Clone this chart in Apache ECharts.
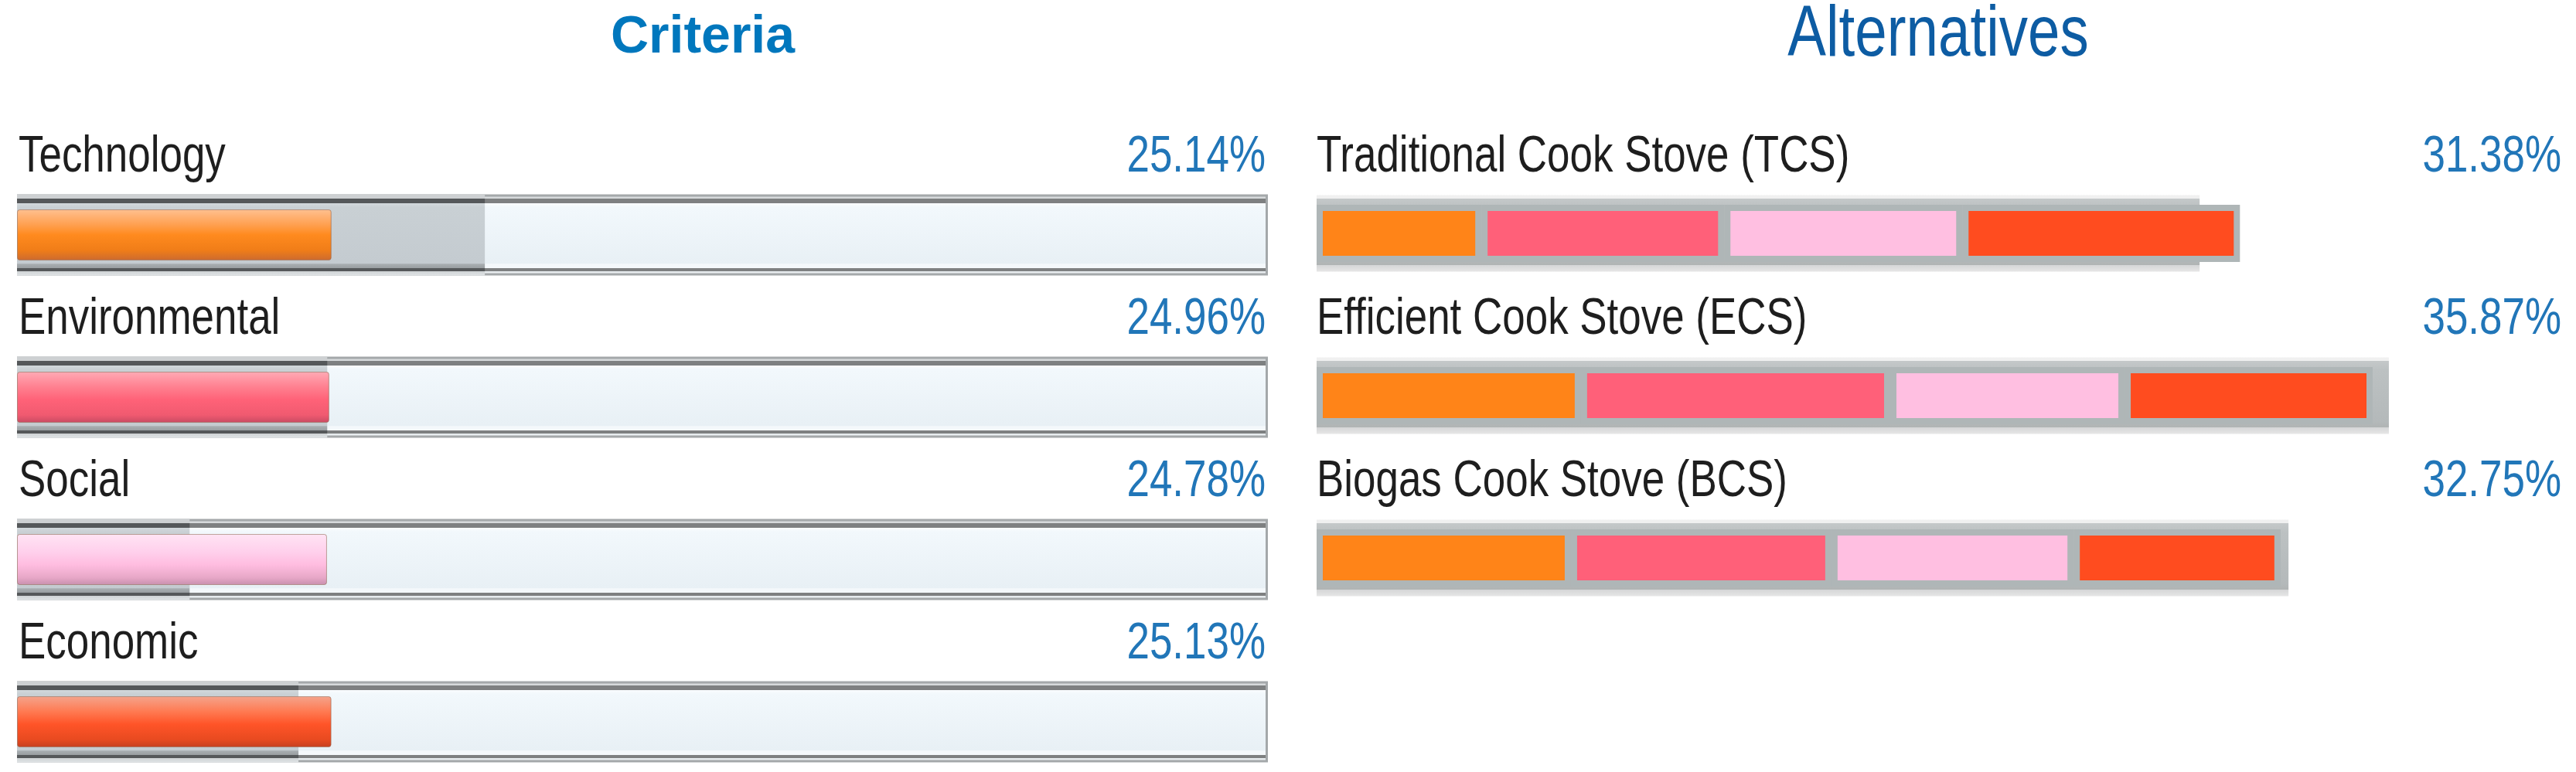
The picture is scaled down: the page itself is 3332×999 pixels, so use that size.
<!DOCTYPE html>
<html>
<head>
<meta charset="utf-8">
<script src="https://cdn.jsdelivr.net/npm/echarts@6/dist/echarts.min.js"></script>
<style>
html, body { margin: 0; background: #fff; }
#chart { width: 3332px; height: 999px; }
</style>
</head>
<body>
<div id="chart"></div>
<script>
// criteria weights (left panel)
const criteria = ['Technology', 'Environmental', 'Social', 'Economic'];
const criteriaWeights = [25.14, 24.96, 24.78, 25.13];
const criteriaGhost = [37.4, 24.8, 13.8, 22.5]; // grey trail behind each fill
const trackValues = [100, 100, 100, 100];

// alternatives (right panel)
const alternatives = ['Traditional Cook Stove (TCS)', 'Efficient Cook Stove (ECS)', 'Biogas Cook Stove (BCS)'];
const altScores = [31.38, 35.87, 32.75];
const altGhost = [30.0, 36.43, 33.02];
const techPart = [5.60, 8.98, 8.64];
const envPart = [8.25, 10.51, 8.85];
const socPart = [8.09, 7.96, 8.23];
const ecoPart = [9.43, 8.43, 7.03];

// no narrow font installed, so the labels get squeezed with scaleX
const labelFont = '67px "Liberation Sans", Arial, sans-serif';
const squeeze = 0.79;

function vGrad(stops) {
    return new echarts.graphic.LinearGradient(0, 0, 0, 1,
        stops.map(s => ({ offset: s[0], color: s[1] })));
}

const trackColor = vGrad([
    [0, '#d6d9db'], [0.057, '#d6d9db'], [0.057, '#7e8081'], [0.105, '#7e8081'],
    [0.105, '#fafcfe'], [0.16, '#f2f8fc'], [0.85, '#e8f0f5'], [0.86, '#f4f8fb'],
    [0.905, '#f4f8fb'], [0.905, '#7e8081'], [0.952, '#7e8081'], [0.952, '#e6ebee'], [1, '#f0f3f5']
]);
const ghostColor = vGrad([
    [0, '#cdd0d2'], [0.057, '#cdd0d2'], [0.057, '#55585a'], [0.105, '#55585a'],
    [0.105, '#d3d9dc'], [0.16, '#c9d0d4'], [0.85, '#c4cbd0'], [0.86, '#a8aeb1'],
    [0.905, '#9a9fa2'], [0.905, '#55585a'], [0.952, '#55585a'], [0.952, '#d0d4d6'], [1, '#e0e4e6']
]);
const fillColors = [
    vGrad([[0, '#ffc090'], [0.3, '#ffa050'], [0.5, '#ff8a1e'], [0.8, '#f07d18'], [1, '#cc6a30']]),
    vGrad([[0, '#ffaab5'], [0.3, '#ff8090'], [0.55, '#ff6278'], [0.85, '#f05a70'], [1, '#c84a62']]),
    vGrad([[0, '#ffe4f4'], [0.35, '#ffd0ec'], [0.6, '#ffbde0'], [0.85, '#e8a8c8'], [1, '#c890ae']]),
    vGrad([[0, '#f4a48c'], [0.3, '#ff7a52'], [0.55, '#ff5428'], [0.85, '#e84a20'], [1, '#c44020']])
];
const altGhostColor = vGrad([
    [0, '#f0f0f0'], [0.05, '#f0f0f0'], [0.05, '#c4c8c9'], [0.16, '#bcc1c2'],
    [0.84, '#b4b9ba'], [0.91, '#b0b4b4'], [0.91, '#d4d5d6'], [1, '#e6e6e6']
]);
const segColors = ['#ff8418', '#ff6079', '#ffbfe1', '#ff4c1f'];

const chart = echarts.init(document.getElementById('chart'));

function segment(name, data, idx) {
    return {
        name: name,
        type: 'bar',
        xAxisIndex: 1,
        yAxisIndex: 3,
        stack: 'alt',
        barWidth: 74,
        data: data,
        itemStyle: { color: segColors[idx], borderColor: '#afb6b7', borderWidth: 8 }
    };
}

// rows are 210px apart; categories sit on the grid edges (boundaryGap false)
// so the bottom row fits inside the canvas
function catAxis(gridIndex, data) {
    return { gridIndex: gridIndex, type: 'category', inverse: true, boundaryGap: false, data: data, show: false };
}

chart.setOption({
    animation: false,
    backgroundColor: '#fff',
    title: {
        text: 'Criteria',
        left: 909,
        top: 15,
        padding: 0,
        textAlign: 'center',
        textStyle: { fontFamily: '"Liberation Sans", Arial, sans-serif', fontWeight: 'bold', fontSize: 68, color: '#0077bd' }
    },
    grid: [
        { left: 22, top: 304, width: 1618, height: 630 },
        { left: 1703, top: 302, width: 1599, height: 420 }
    ],
    xAxis: [
        { gridIndex: 0, type: 'value', min: 0, max: 100, show: false },
        { gridIndex: 1, type: 'value', min: 0, max: 42, show: false }
    ],
    yAxis: [
        catAxis(0, criteria),
        catAxis(0, criteria),
        catAxis(1, alternatives),
        catAxis(1, alternatives)
    ],
    series: [
        {
            name: 'track',
            type: 'bar',
            xAxisIndex: 0,
            yAxisIndex: 0,
            barWidth: 105,
            barGap: '-100%',
            data: trackValues,
            itemStyle: { color: trackColor, borderColor: '#a4a8aa', borderWidth: 3 }
        },
        {
            name: 'trail',
            type: 'bar',
            xAxisIndex: 0,
            yAxisIndex: 0,
            barWidth: 105,
            barGap: '-100%',
            data: criteriaGhost,
            itemStyle: { color: ghostColor }
        },
        {
            name: 'weight',
            type: 'bar',
            xAxisIndex: 0,
            yAxisIndex: 1,
            barWidth: 66,
            data: criteriaWeights.map((v, i) => ({
                value: v,
                itemStyle: { color: fillColors[i] }
            })),
            itemStyle: { borderRadius: 3, borderColor: 'rgba(150,110,90,0.35)', borderWidth: 1 }
        },
        {
            name: 'altTrail',
            type: 'bar',
            xAxisIndex: 1,
            yAxisIndex: 2,
            barWidth: 99,
            data: altGhost,
            itemStyle: { color: altGhostColor }
        },
        segment('Technology', techPart, 0),
        segment('Environmental', envPart, 1),
        segment('Social', socPart, 2),
        segment('Economic', ecoPart, 3)
    ]
});

// row labels sit above each bar; rows are found through the category axes
function rowText(text, x, y, align, color) {
    return {
        type: 'text',
        x: x,
        y: y,
        scaleX: squeeze,
        silent: true,
        style: { text: text, font: labelFont, fill: color, align: align, verticalAlign: 'middle' }
    };
}

const texts = [{
    type: 'text',
    x: 2507,
    y: 47,
    scaleX: 0.81,
    style: {
        text: 'Alternatives',
        font: '92px "Liberation Sans", Arial, sans-serif',
        fill: '#0d5ca3',
        align: 'center',
        verticalAlign: 'middle'
    }
}];
criteria.forEach((c, i) => {
    const y = chart.convertToPixel({ yAxisIndex: 0 }, c) - 100;
    texts.push(rowText(c, 24, y, 'left', '#1e1e1e'));
    texts.push(rowText(criteriaWeights[i].toFixed(2) + '%', 1637, y, 'right', '#2176b8'));
});
alternatives.forEach((a, i) => {
    const y = chart.convertToPixel({ yAxisIndex: 2 }, a) - 98;
    texts.push(rowText(a, 1703, y, 'left', '#1e1e1e'));
    texts.push(rowText(altScores[i].toFixed(2) + '%', 3313, y, 'right', '#2176b8'));
});
chart.setOption({ graphic: texts });
</script>
</body>
</html>
